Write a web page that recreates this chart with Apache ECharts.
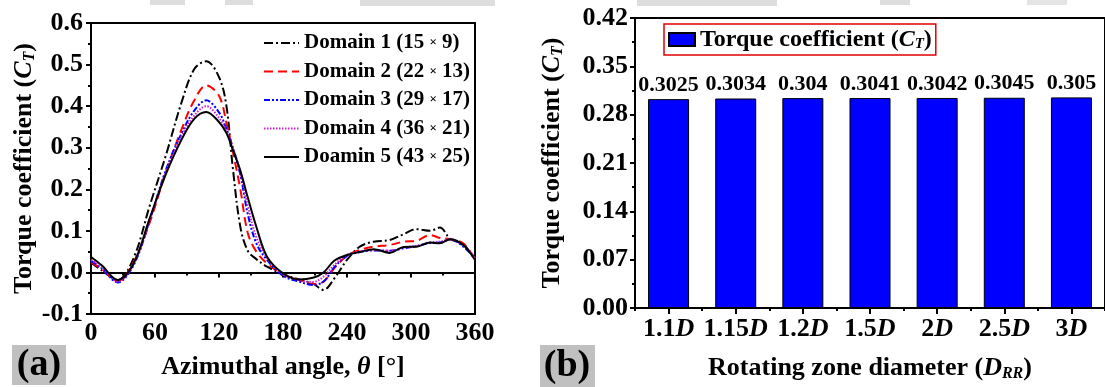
<!DOCTYPE html>
<html><head><meta charset="utf-8">
<script src="https://cdn.jsdelivr.net/npm/echarts@6/dist/echarts.min.js"></script>
<style>html,body{margin:0;padding:0;background:#fff}#c{width:1105px;height:387px}</style>
</head><body><div id="c"></div>
<script>
// ---------- Panel (a): torque coefficient vs azimuthal angle ----------
const thetaDeg = [0, 10, 25, 40, 55, 70, 85, 97, 108, 120, 127, 133, 140, 147, 155, 165, 180, 195, 208, 218, 228, 240, 252, 265, 280, 293, 305, 318, 327, 337, 349, 360];
const domain1 = [0.024, 0.005, -0.018, 0.035, 0.16, 0.28, 0.41, 0.49, 0.508, 0.47, 0.40, 0.25, 0.11, 0.052, 0.032, 0.014, -0.004, -0.017, -0.027, -0.042, -0.015, 0.03, 0.062, 0.074, 0.078, 0.092, 0.104, 0.1, 0.108, 0.08, 0.068, 0.03];
const domain2 = [0.025, 0.008, -0.02, 0.025, 0.12, 0.24, 0.345, 0.415, 0.45, 0.425, 0.36, 0.29, 0.2, 0.095, 0.05, 0.022, -0.005, -0.018, -0.028, -0.022, 0.01, 0.04, 0.054, 0.062, 0.066, 0.074, 0.076, 0.09, 0.083, 0.08, 0.07, 0.032];
const domain3 = [0.028, 0.01, -0.024, 0.018, 0.125, 0.245, 0.335, 0.39, 0.414, 0.385, 0.345, 0.3, 0.235, 0.14, 0.07, 0.03, -0.008, -0.022, -0.03, -0.022, 0.012, 0.04, 0.049, 0.053, 0.052, 0.058, 0.063, 0.071, 0.072, 0.08, 0.062, 0.035];
const domain4 = [0.03, 0.012, -0.022, 0.02, 0.127, 0.24, 0.328, 0.378, 0.40, 0.372, 0.34, 0.3, 0.24, 0.16, 0.085, 0.035, -0.004, -0.018, -0.023, -0.01, 0.018, 0.042, 0.05, 0.054, 0.052, 0.06, 0.064, 0.072, 0.074, 0.08, 0.064, 0.035];
const domain5 = [0.037, 0.017, -0.018, 0.022, 0.13, 0.235, 0.32, 0.37, 0.386, 0.362, 0.335, 0.295, 0.245, 0.18, 0.11, 0.038, -0.002, -0.017, -0.013, 0.0, 0.028, 0.042, 0.049, 0.056, 0.047, 0.061, 0.062, 0.072, 0.07, 0.08, 0.066, 0.03];
const domainNames = ['Domain 1 (15 × 9)', 'Domain 2 (22 × 13)', 'Domain 3 (29 × 17)', 'Domain 4 (36 × 21)', 'Doamin 5 (43 × 25)'];

// ---------- Panel (b): torque coefficient vs rotating zone diameter ----------
const rzCategories = ['1.1', '1.15', '1.2', '1.5', '2', '2.5', '3'];
const rzTorque = [0.3025, 0.3034, 0.304, 0.3041, 0.3042, 0.3045, 0.305];

const F = 'Liberation Serif';
const domainData = [domain1, domain2, domain3, domain4, domain5];
const domainStyles = [
  {color: '#000000', type: [9, 3, 2, 3]},
  {color: '#ff0000', type: [9, 5]},
  {color: '#0000ff', type: [6, 2, 2, 2, 2, 2]},
  {color: '#d020d0', type: [1.5, 1.5]},
  {color: '#000000', type: 'solid'}
];

const chart = echarts.init(document.getElementById('c'), null, {renderer: 'canvas'});
const axisCommon = {
  axisLine: {show: true, lineStyle: {color: '#000', width: 2}},
  splitLine: {show: false},
  axisLabel: {color: '#000', fontFamily: F, fontWeight: 'bold', fontSize: 26},
  nameTextStyle: {color: '#000', fontFamily: F, fontWeight: 'bold', fontSize: 26}
};
const subRich = {
  i: {fontFamily: F, fontWeight: 'bold', fontStyle: 'italic', fontSize: 26, color: '#000'},
  s: {fontFamily: F, fontWeight: 'bold', fontStyle: 'italic', fontSize: 16, color: '#000', padding: [12, 0, 0, 0]}
};

const lineSeries = domainData.map((d, k) => ({
  name: domainNames[k],
  type: 'line',
  xAxisIndex: 0, yAxisIndex: 0,
  data: thetaDeg.map((t, i) => [t, d[i]]),
  smooth: 0.35,
  symbol: 'none',
  z: k === 4 ? 5 : 3,
  lineStyle: {color: domainStyles[k].color, width: 2, type: domainStyles[k].type},
  itemStyle: {color: domainStyles[k].color}
}));

const option = {
  animation: false,
  backgroundColor: '#fff',
  grid: [
    {left: 91, top: 23, width: 384, height: 291, show: true, borderColor: '#000', borderWidth: 2},
    {left: 635, top: 18, width: 476, height: 291, show: true, borderColor: '#000', borderWidth: 2}
  ],
  xAxis: [
    Object.assign({}, axisCommon, {
      gridIndex: 0, type: 'value', min: 0, max: 360, interval: 60,
      axisTick: {show: true, length: 5, lineStyle: {width: 2}},
      minorTick: {show: true, splitNumber: 2, length: 3, lineStyle: {color: '#000', width: 2}},
      axisLabel: Object.assign({}, axisCommon.axisLabel, {margin: 6}),
      name: 'Azimuthal angle, {i|θ} [°]', nameLocation: 'middle', nameGap: 40,
      nameTextStyle: Object.assign({}, axisCommon.nameTextStyle, {rich: subRich})
    }),
    Object.assign({}, axisCommon, {
      gridIndex: 1, type: 'category', data: rzCategories,
      axisTick: {show: true, alignWithLabel: true, length: 6, lineStyle: {width: 2}},
      axisLabel: Object.assign({}, axisCommon.axisLabel, {margin: 8, interval: 0,
        formatter: v => v + '{i|D}', rich: subRich}),
      name: 'Rotating zone diameter ({i|D}{s|RR})', nameLocation: 'middle', nameGap: 46,
      nameTextStyle: Object.assign({}, axisCommon.nameTextStyle, {rich: subRich})
    }),
    {
      gridIndex: 1, type: 'category', data: rzCategories, position: 'bottom',
      axisLine: {show: false}, axisLabel: {show: false}, splitLine: {show: false},
      axisTick: {show: true, alignWithLabel: false, interval: 0, length: 3, lineStyle: {color: '#000', width: 2}}
    }
  ],
  yAxis: [
    Object.assign({}, axisCommon, {
      gridIndex: 0, type: 'value', min: -0.1, max: 0.6, interval: 0.1,
      axisTick: {show: true, length: 5, lineStyle: {width: 2}},
      minorTick: {show: true, splitNumber: 2, length: 3, lineStyle: {color: '#000', width: 2}},
      axisLabel: Object.assign({}, axisCommon.axisLabel, {margin: 8, formatter: v => v.toFixed(1)}),
      name: 'Torque coefficient ({i|C}{s|T})', nameLocation: 'middle', nameGap: 52,
      nameTextStyle: Object.assign({}, axisCommon.nameTextStyle, {rich: subRich})
    }),
    Object.assign({}, axisCommon, {
      gridIndex: 1, type: 'value', min: 0, max: 0.42, interval: 0.07,
      axisTick: {show: true, length: 5, lineStyle: {width: 2}},
      minorTick: {show: true, splitNumber: 2, length: 3, lineStyle: {color: '#000', width: 2}},
      axisLabel: Object.assign({}, axisCommon.axisLabel, {margin: 7, formatter: v => v.toFixed(2)}),
      name: 'Torque coefficient ({i|C}{s|T})', nameLocation: 'middle', nameGap: 69,
      nameTextStyle: Object.assign({}, axisCommon.nameTextStyle, {rich: subRich})
    })
  ],
  legend: [
    {
      data: domainNames.map(n => ({name: n, itemStyle: {opacity: 0}})),
      orient: 'vertical', left: 263, top: 32, padding: 0,
      itemWidth: 35, itemHeight: 14, itemGap: 6.5,
      itemStyle: {opacity: 0},
      textStyle: {color: '#000', fontFamily: F, fontWeight: 'bold', fontSize: 21, lineHeight: 22,
        rich: {x: {fontFamily: F, fontWeight: 'bold', fontSize: 13, color: '#000'}}},
      formatter: n => n.replace('×', '{x|×}')
    },
    {
      data: [{name: 'Torque coefficient (CT)', icon: 'rect'}], left: 664, top: 24, padding: [3, 4, 3, 4],
      borderColor: '#e00000', borderWidth: 1.5,
      itemWidth: 26, itemHeight: 13,
      textStyle: {color: '#000', fontFamily: F, fontWeight: 'bold', fontSize: 24, lineHeight: 25,
        rich: {i: {fontFamily: F, fontWeight: 'bold', fontStyle: 'italic', fontSize: 24, color: '#000'},
               s: {fontFamily: F, fontWeight: 'bold', fontStyle: 'italic', fontSize: 15, color: '#000', padding: [10, 0, 0, 0]}}},
      formatter: () => 'Torque coefficient ({i|C}{s|T})'
    }
  ],
  series: lineSeries.concat([{
    name: 'Torque coefficient (CT)',
    type: 'bar', xAxisIndex: 1, yAxisIndex: 1,
    data: rzTorque, barWidth: 41,
    itemStyle: {color: '#0000ff', borderColor: '#000', borderWidth: 1},
    label: {show: true, position: 'top', distance: 3, color: '#000', fontFamily: F, fontWeight: 'bold', fontSize: 22,
      formatter: p => String(p.value)}
  }]),
  graphic: [
    {type: 'rect', shape: {x: 12, y: 345, width: 54, height: 40}, style: {fill: '#c0c0c0'}},
    {type: 'text', x: 39, y: 365, style: {text: '(a)', font: 'bold 38px "Liberation Serif"', fill: '#000', textAlign: 'center', textVerticalAlign: 'middle'}},
    {type: 'rect', shape: {x: 540, y: 345, width: 55, height: 42}, style: {fill: '#c0c0c0'}},
    {type: 'text', x: 567, y: 366, style: {text: '(b)', font: 'bold 38px "Liberation Serif"', fill: '#000', textAlign: 'center', textVerticalAlign: 'middle'}},
    {type: 'rect', shape: {x: 150, y: 0, width: 35, height: 5}, style: {fill: '#dddddd'}},
    {type: 'rect', shape: {x: 225, y: 0, width: 28, height: 5}, style: {fill: '#dddddd'}},
    {type: 'rect', shape: {x: 360, y: 0, width: 135, height: 6}, style: {fill: '#dddddd'}},
    {type: 'rect', shape: {x: 637, y: 0, width: 140, height: 6}, style: {fill: '#dddddd'}},
    {type: 'rect', shape: {x: 880, y: 0, width: 30, height: 5}, style: {fill: '#dddddd'}},
    {type: 'rect', shape: {x: 1027, y: 0, width: 40, height: 5}, style: {fill: '#e4e4e4'}}
  ]
};
chart.setOption(option);
</script>
</body></html>
